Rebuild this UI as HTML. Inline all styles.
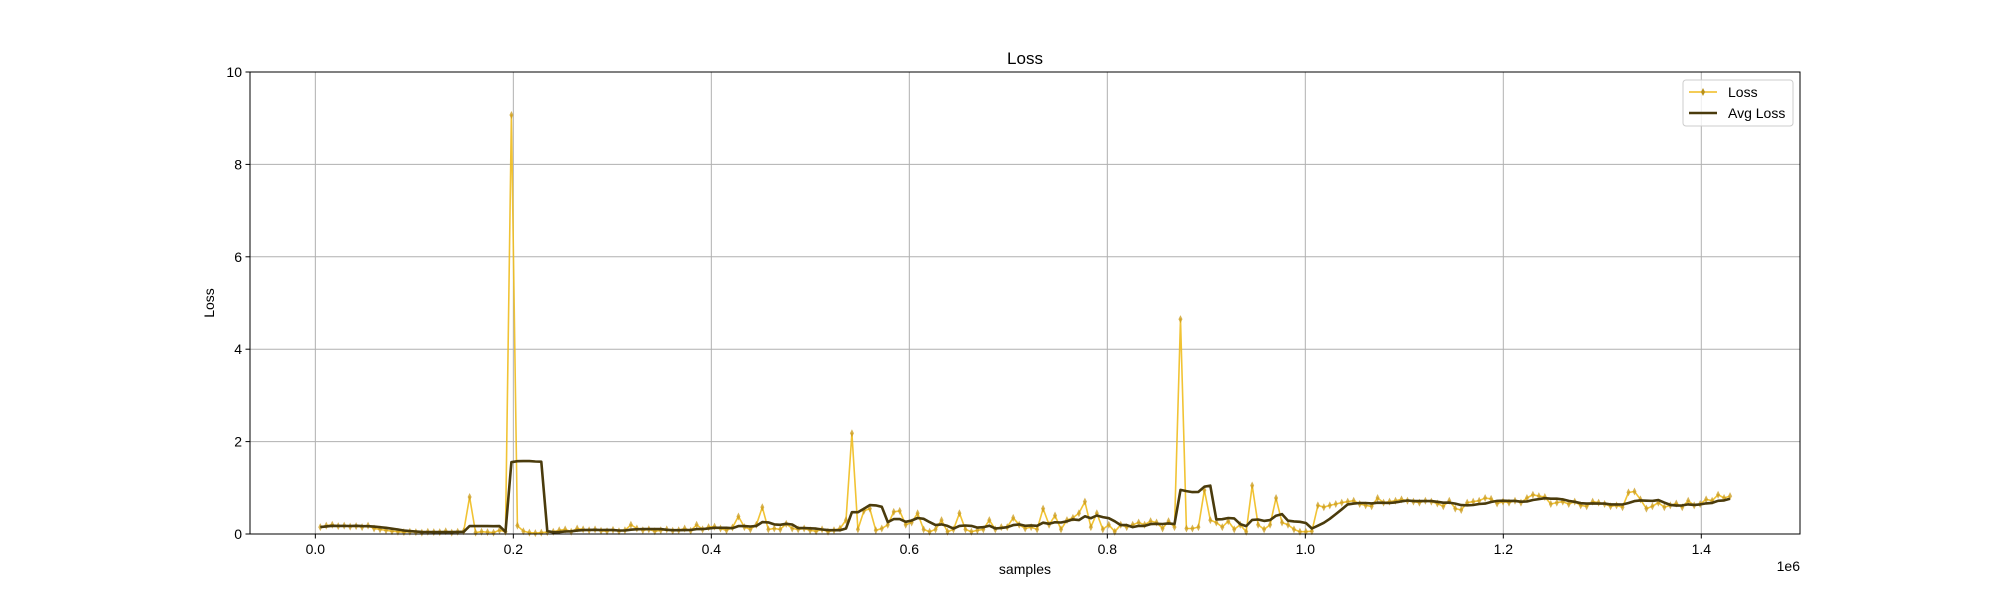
<!DOCTYPE html>
<html><head><meta charset="utf-8"><style>
html,body{margin:0;padding:0;background:#fff;}
svg text{font-family:"Liberation Sans","DejaVu Sans",sans-serif;}
</style></head><body>
<svg id="chart" width="2000" height="600" viewBox="0 0 2000 600" xmlns="http://www.w3.org/2000/svg">
<rect width="2000" height="600" fill="#fff"/>
<g id="grid"></g>
<g id="series"></g>
<rect x="250" y="72" width="1550" height="462" fill="none" stroke="#000" stroke-width="1"/>
<g id="ticks"></g>
<text x="1025" y="64" font-size="17" text-anchor="middle">Loss</text>
<text x="1025" y="574" font-size="14" text-anchor="middle">samples</text>
<text x="0" y="0" font-size="14" text-anchor="middle" transform="translate(214,303) rotate(-90)">Loss</text>
<text x="1800" y="571" font-size="14" text-anchor="end">1e6</text>
<g>
<rect x="1683" y="80" width="110" height="46" rx="3" fill="#fff" fill-opacity="0.8" stroke="#ccc"/>
<g>
<line x1="1689" y1="92" x2="1717" y2="92" stroke="#f0bc1e" stroke-width="1.5"/>
<path d="M1703,88 L1705,92 L1703,96 L1701,92 Z" fill="#b8901a"/>
<text x="1728" y="97" font-size="14">Loss</text></g>
<g>
<line x1="1689" y1="113" x2="1717" y2="113" stroke="#4a3b0c" stroke-width="2.5"/>
<text x="1728" y="118" font-size="14">Avg Loss</text></g>
</g>
</svg>
<script>
const sampleStart = 5000;
const sampleStep = 6034;
const lossValues = [
0.15,0.18,0.2,0.17,0.18,0.16,0.17,0.15,0.18,0.12,
0.1,0.08,0.06,0.05,0.04,0.05,0.04,0.03,0.05,0.04,
0.04,0.06,0.03,0.05,0.06,0.8,0.03,0.05,0.04,0.03,
0.08,0.05,9.07,0.18,0.06,0.03,0.02,0.03,0.04,0.05,
0.08,0.1,0.05,0.12,0.1,0.08,0.1,0.07,0.06,0.09,
0.06,0.08,0.2,0.12,0.08,0.1,0.06,0.08,0.1,0.07,
0.08,0.12,0.07,0.2,0.1,0.15,0.16,0.12,0.08,0.14,
0.38,0.15,0.1,0.2,0.58,0.1,0.12,0.1,0.22,0.12,
0.1,0.12,0.08,0.06,0.1,0.05,0.08,0.12,0.3,2.18,
0.1,0.5,0.55,0.08,0.12,0.2,0.48,0.5,0.2,0.25,
0.45,0.1,0.05,0.1,0.3,0.05,0.1,0.45,0.1,0.05,
0.08,0.1,0.3,0.1,0.15,0.15,0.35,0.2,0.12,0.15,
0.1,0.55,0.2,0.4,0.1,0.3,0.35,0.45,0.7,0.15,
0.45,0.1,0.2,0.05,0.2,0.15,0.2,0.25,0.2,0.28,
0.25,0.12,0.28,0.15,4.65,0.12,0.12,0.15,0.95,0.3,
0.25,0.15,0.28,0.1,0.2,0.05,1.05,0.2,0.1,0.2,
0.78,0.25,0.2,0.1,0.05,0.05,0.06,0.62,0.58,0.62,
0.65,0.68,0.7,0.72,0.65,0.62,0.6,0.78,0.68,0.7,
0.72,0.75,0.72,0.7,0.68,0.72,0.7,0.66,0.6,0.72,
0.55,0.52,0.68,0.7,0.72,0.78,0.76,0.66,0.7,0.68,
0.72,0.68,0.78,0.85,0.82,0.8,0.65,0.68,0.7,0.65,
0.7,0.62,0.6,0.7,0.68,0.65,0.6,0.62,0.58,0.9,
0.92,0.75,0.55,0.6,0.68,0.58,0.62,0.66,0.58,0.72,
0.62,0.65,0.75,0.72,0.85,0.78,0.82
];
const avgWindow = 6;
const xTickValues = [0,0.2,0.4,0.6,0.8,1.0,1.2,1.4];
const xTickLabels = ["0.0","0.2","0.4","0.6","0.8","1.0","1.2","1.4"];
const yTickValues = [0,2,4,6,8,10];
const yTickLabels = ["0","2","4","6","8","10"];

const X0=250,X1=1800,Y0=534,Y1=72;
const xMin=-0.066e6,xMax=1.4997e6,yMin=0,yMax=10;
const sx=v=>X0+(v-xMin)/(xMax-xMin)*(X1-X0);
const sy=v=>Y0-(v-yMin)/(yMax-yMin)*(Y0-Y1);
const NS="http://www.w3.org/2000/svg";
function mk(tag,attrs,parent){const e=document.createElementNS(NS,tag);for(const k in attrs)e.setAttribute(k,attrs[k]);parent.appendChild(e);return e;}
const grid=document.getElementById('grid'),ticks=document.getElementById('ticks'),series=document.getElementById('series');
xTickValues.forEach((v,i)=>{
  const x=sx(v*1e6);
  const gl=mk('line',{x1:x,x2:x,y1:Y1,y2:Y0,stroke:'#b0b0b0','stroke-width':1},grid);
  
  
  mk('line',{x1:x,x2:x,y1:Y0,y2:Y0+4.5,stroke:'#000'},ticks);
  const t=mk('text',{x:x,y:Y0+20,'font-size':14,'text-anchor':'middle'},ticks);
  t.textContent=xTickLabels[i];
  
  
});
yTickValues.forEach((v,i)=>{
  const y=sy(v);
  const gl=mk('line',{x1:X0,x2:X1,y1:y,y2:y,stroke:'#b0b0b0','stroke-width':1},grid);
  
  
  mk('line',{x1:X0-4.5,x2:X0,y1:y,y2:y,stroke:'#000'},ticks);
  const t=mk('text',{x:X0-8,y:y+5,'font-size':14,'text-anchor':'end'},ticks);
  t.textContent=yTickLabels[i];
  
  
});
const samples=lossValues.map((_,i)=>sampleStart+i*sampleStep);
const avgValues=lossValues.map((_,i)=>{const s=Math.max(0,i-avgWindow+1);let t=0;for(let j=s;j<=i;j++)t+=lossValues[j];return t/(i-s+1);});
const lp=samples.map((s,i)=>sx(s).toFixed(1)+','+sy(lossValues[i]).toFixed(1)).join(' ');
const lossLine=mk('polyline',{points:lp,fill:'none',stroke:'#f0bc1e','stroke-width':1.6,'stroke-opacity':0.9,'stroke-linejoin':'round'},series);


samples.forEach((s,i)=>{
  const x=sx(s),y=sy(lossValues[i]);
  const m=mk('path',{d:`M${x},${y-4} L${x+2},${y} L${x},${y+4} L${x-2},${y} Z`,fill:'#c99a1a','fill-opacity':0.75},series);
  
  
});
const ap=samples.map((s,i)=>sx(s).toFixed(1)+','+sy(avgValues[i]).toFixed(1)).join(' ');
const avgLine=mk('polyline',{points:ap,fill:'none',stroke:'#4a3b0c','stroke-width':2.6,'stroke-linejoin':'round'},series);


</script>
</body></html>
